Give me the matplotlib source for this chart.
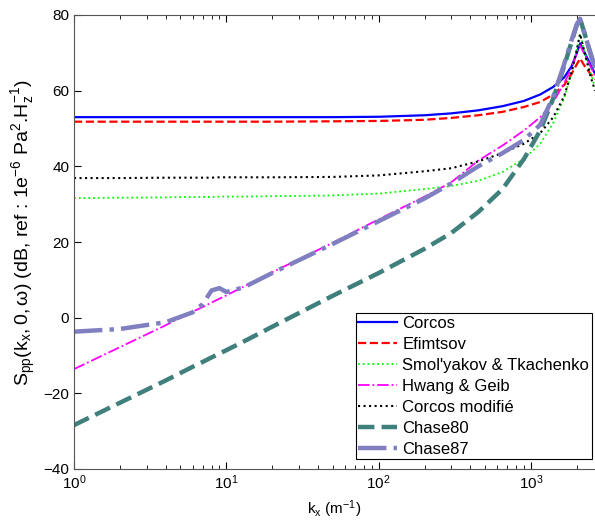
import matplotlib
matplotlib.use("Agg")
import matplotlib.pyplot as plt

plt.rcParams['font.family'] = ['Liberation Sans', 'DejaVu Sans']
plt.rcParams['mathtext.fontset'] = 'custom'
plt.rcParams['mathtext.rm'] = 'Liberation Sans'
plt.rcParams['mathtext.it'] = 'Liberation Sans'
plt.rcParams['mathtext.default'] = 'regular'

# nombre d'onde kx (m^-1), grille commune
kx = [1, 2, 4, 6, 7, 8, 9, 10, 13, 20, 50, 100, 200, 300, 450, 650, 900,
      1150, 1400, 1650, 1850, 2000, 2100, 2250, 2450, 2630]

corcos = [53.0, 53.0, 53.0, 53.0, 53.0, 53.0, 53.0, 53.0, 53.0, 53.0, 53.0, 53.1,
          53.5, 54.0, 54.8, 55.9, 57.3, 59.0, 61.0, 63.5, 66.5, 70.0, 72.5, 70.0, 67.0, 64.5]
efimtsov = [51.8, 51.8, 51.8, 51.8, 51.8, 51.8, 51.8, 51.8, 51.8, 51.8, 51.9, 52.0,
            52.3, 52.8, 53.5, 54.4, 55.7, 57.0, 59.0, 61.5, 64.5, 67.0, 68.5, 66.5, 64.5, 63.0]
smolyakov = [31.6, 31.7, 31.8, 31.9, 31.9, 31.9, 32.0, 32.0, 32.0, 32.1, 32.3, 32.8,
             34.0, 34.8, 36.2, 38.5, 42.0, 46.0, 51.5, 58.0, 65.0, 71.0, 75.0, 70.0, 65.0, 61.0]
hwang = [-13.6, -7.8, -2.0, 1.6, 2.8, 4.0, 5.0, 5.9, 8.2, 12.0, 19.8, 26.0,
         32.0, 35.8, 41.5, 45.5, 49.5, 53.0, 57.0, 62.0, 66.0, 70.0, 72.0, 69.5, 66.5, 64.0]
corcos_mod = [36.9, 36.9, 37.0, 37.0, 37.0, 37.0, 37.1, 37.1, 37.1, 37.1, 37.2, 37.6,
              38.7, 39.5, 41.3, 43.5, 46.0, 48.8, 53.0, 58.5, 65.0, 71.0, 75.0, 70.0, 64.0, 60.0]
chase80 = [-28.4, -22.5, -16.6, -13.0, -11.7, -10.5, -9.5, -8.6, -6.3, -2.4, 5.8, 11.8,
           18.2, 22.4, 27.9, 34.0, 42.0, 49.5, 58.0, 66.5, 73.0, 77.5, 79.0, 75.0, 70.0, 66.0]
chase87 = [-3.7, -3.0, -1.2, 1.4, 3.6, 7.2, 7.8, 6.8, 8.0, 11.8, 19.5, 25.5,
           31.5, 35.5, 40.0, 43.5, 47.0, 51.0, 58.5, 67.0, 73.5, 77.5, 79.0, 75.0, 70.0, 66.0]

fig = plt.figure(figsize=(5.95, 5.28), dpi=100)
ax = fig.add_axes([74/595, 59/528, 521/595, 454/528])

ax.semilogx(kx, corcos, '-', color='#0000ff', lw=1.6, label='Corcos')
ax.semilogx(kx, efimtsov, '--', color='#ff0000', lw=1.6, label='Efimtsov')
ax.semilogx(kx, smolyakov, ':', color='#00ff00', lw=1.3, label="Smol'yakov & Tkachenko")
ax.semilogx(kx, hwang, '-.', color='#ff00ff', lw=1.3, label='Hwang & Geib')
ax.semilogx(kx, corcos_mod, ':', color='black', lw=1.5, label='Corcos modifié')
ax.semilogx(kx, chase80, '--', color='#3f807c', lw=3.2, label='Chase80')
ax.semilogx(kx, chase87, '-.', color='#8080c0', lw=3.2, label='Chase87')

ax.set_xlim(1, 2630)
ax.set_ylim(-40, 80)
ax.set_yticks([-40, -20, 0, 20, 40, 60, 80])
ax.set_xticks([1, 10, 100, 1000])
ax.set_xticklabels([r'$10^0$', r'$10^1$', r'$10^2$', r'$10^3$'])
ax.tick_params(which='both', direction='in', top=True, right=False, labelsize=11)
ax.tick_params(which='major', length=5)
ax.tick_params(which='minor', length=3)
ax.spines['right'].set_visible(False)
for s in ['left', 'bottom', 'top']:
    ax.spines[s].set_color('#555555')

ax.set_xlabel(r'$k_x$ (m$^{-1}$)', fontsize=11)
ax.set_ylabel(r'$S_{pp}(k_x,0,\omega)$ (dB, ref : 1e$^{-6}$ Pa$^2$.H$_z^{-1}$)', fontsize=14)
ax.yaxis.set_label_coords(-0.07, 0.52)

leg = ax.legend(loc='lower right', bbox_to_anchor=(0.994, 0.022), fontsize=12,
                handlelength=2.35, handletextpad=0.3, labelspacing=0.36,
                borderpad=0.15, borderaxespad=0, fancybox=False, framealpha=1)
leg.get_frame().set_edgecolor('black')
leg.get_frame().set_linewidth(0.8)

fig.savefig('out.png', dpi=100)
